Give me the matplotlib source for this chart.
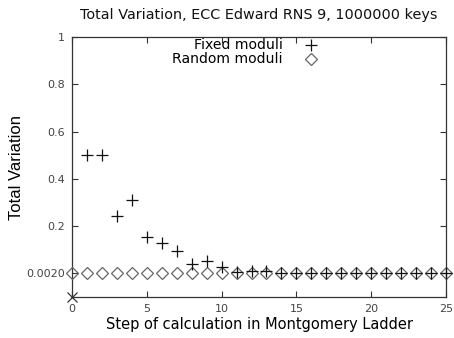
import matplotlib
matplotlib.use("Agg")
import matplotlib.pyplot as plt
from matplotlib.lines import Line2D

title = "Total Variation, ECC Edward RNS 9, 1000000 keys"
xlabel = "Step of calculation in Montgomery Ladder"
ylabel = "Total Variation"

fixed_steps = list(range(1, 26))
fixed_values = [0.5, 0.5, 0.242, 0.309, 0.154, 0.128, 0.095, 0.04, 0.053, 0.025,
                0.004, 0.010, 0.012, 0.003, 0.002, 0.002, 0.002, 0.002, 0.002, 0.002,
                0.002, 0.002, 0.002, 0.002, 0.002]
random_steps = list(range(0, 26))
random_values = [0.002] * 26
extra_step = [0]
extra_value = [-0.1]

yticks = [0.002, 0.2, 0.4, 0.6, 0.8, 1.0]
yticklabels = ["0.0020", "0.2", "0.4", "0.6", "0.8", "1"]
xticks = [0, 5, 10, 15, 20, 25]

W, H = 454, 338
fig = plt.figure(figsize=(W/100, H/100), dpi=100)
L, R, T, B = 72, 446, 37, 297
ax = fig.add_axes([L/W, 1-B/H, (R-L)/W, (B-T)/H])

diam_col = "#666666"
ax.plot(random_steps, random_values, linestyle="none", marker="D", markersize=6.6,
        markerfacecolor="none", markeredgecolor=diam_col, markeredgewidth=0.9, clip_on=False, zorder=3)
ax.plot(fixed_steps, fixed_values, linestyle="none", marker="+", markersize=9,
        markeredgecolor="#111111", markeredgewidth=0.9, clip_on=False, zorder=4)
ax.plot(extra_step, extra_value, linestyle="none", marker="x", markersize=7,
        markeredgecolor="#333333", markeredgewidth=0.9, clip_on=False, zorder=4)

ax.set_xlim(0, 25)
ax.set_ylim(-0.1, 1.0)
ax.set_xticks(xticks)
ax.set_yticks(yticks)
ax.set_yticklabels(yticklabels)
ax.tick_params(direction="in", length=4, width=0.8, top=True, right=True,
               labelsize=8, labelcolor="#444444", color="#333333", pad=5)
for s in ax.spines.values():
    s.set_linewidth(0.9)
    s.set_color("#333333")

ax.set_title(title, fontsize=10.4, pad=13, color="#111111")
ax.set_xlabel(xlabel, fontsize=10.5, labelpad=2)
ax.set_ylabel(ylabel, fontsize=12, labelpad=2, family=["Liberation Sans", "DejaVu Sans"])

# legend (gnuplot style: text right-aligned, symbol to the right)
ax.text(283/W, 1-45/H, "Fixed moduli", transform=fig.transFigure, ha="right", va="center", fontsize=10.1)
ax.text(283/W, 1-59/H, "Random moduli", transform=fig.transFigure, ha="right", va="center", fontsize=10.1)
fig.add_artist(Line2D([311/W], [1-45/H], transform=fig.transFigure, marker="+",
                      markersize=9, markeredgecolor="#111111", markeredgewidth=0.9, linestyle="none"))
fig.add_artist(Line2D([311/W], [1-59/H], transform=fig.transFigure, marker="D",
                      markersize=6.6, markerfacecolor="none", markeredgecolor=diam_col,
                      markeredgewidth=0.9, linestyle="none"))

fig.savefig("out.png", dpi=100)
